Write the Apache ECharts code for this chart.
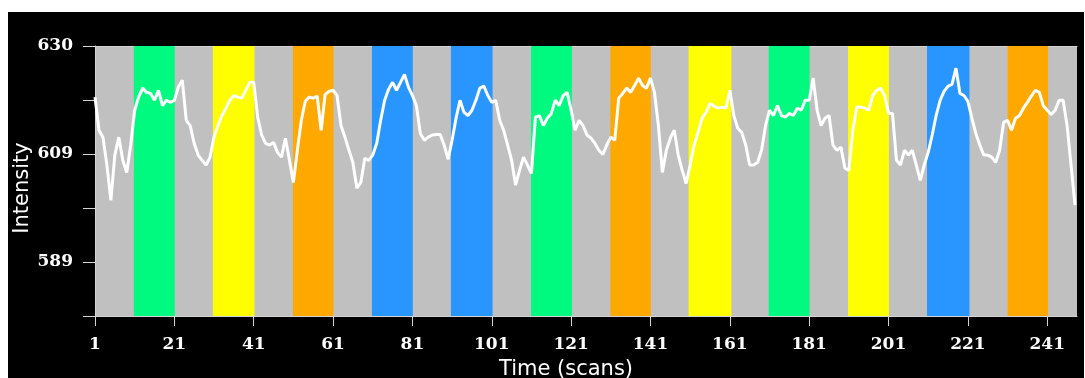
<!DOCTYPE html>
<html><head><meta charset="utf-8">
<script src="https://cdn.jsdelivr.net/npm/echarts@6/dist/echarts.min.js"></script>
<style>html,body{margin:0;padding:0;background:#fff;width:1085px;height:378px;overflow:hidden}
#c{position:absolute;left:8px;top:12px;width:1076px;height:366px;}</style></head>
<body><div id="c"></div>
<script>
const intensity = [
620.3,614.0,612.7,607.4,600.7,609.3,612.7,608.3,606.0,611.2,
617.8,620.3,622.0,621.2,621.0,619.7,621.6,618.7,619.7,619.3,
619.7,622.2,623.5,615.9,614.9,611.5,609.3,608.3,607.4,608.9,
612.7,614.9,616.8,618.2,619.7,620.6,620.3,620.1,621.6,623.1,
623.1,616.5,613.1,611.5,611.2,611.7,609.8,608.9,612.5,608.3,
604.1,610.2,615.9,619.5,620.3,620.1,620.5,614.0,620.8,621.4,
621.6,620.6,614.9,612.7,610.2,607.9,603.0,604.1,608.7,608.3,
609.3,611.5,615.9,619.7,621.8,623.1,621.6,623.1,624.6,622.2,
620.6,618.7,613.4,612.1,612.7,613.1,613.2,613.2,611.2,608.5,
612.1,616.3,619.7,617.4,616.8,617.8,619.7,622.0,622.4,620.6,
619.3,619.7,615.9,614.0,611.2,608.3,603.6,606.4,608.9,607.4,
605.8,616.5,616.8,614.9,616.3,617.2,619.7,618.7,620.6,621.2,
617.8,614.0,615.9,614.9,613.1,612.5,611.5,610.2,609.4,611.2,
612.7,612.1,620.1,621.0,622.0,621.2,622.5,623.9,622.5,622.0,
623.9,621.2,614.9,606.0,610.2,612.5,614.0,609.3,606.4,603.9,
607.4,611.2,613.6,616.3,617.4,619.1,618.6,618.2,618.4,618.2,
621.6,616.8,614.4,613.6,611.2,607.4,607.4,607.9,610.2,614.9,
617.8,616.8,618.7,616.8,616.5,617.2,616.8,618.2,617.8,619.7,
619.7,623.9,617.8,614.9,616.3,616.8,611.2,610.2,610.8,606.8,
606.4,614.0,618.4,618.4,618.2,617.8,620.6,621.6,622.0,620.6,
617.2,617.2,608.3,607.4,610.2,609.3,610.2,607.4,604.5,607.4,
609.8,613.1,616.8,619.7,621.4,622.4,622.7,625.8,621.0,620.6,
619.5,616.3,613.4,611.2,609.3,609.3,608.9,607.9,610.2,615.5,
615.9,614.0,616.3,616.8,618.2,619.3,620.5,621.6,621.2,618.7,
617.8,617.0,617.8,619.7,619.7,614.9,607.4,599.8
];
const blockStarts = [10.8, 30.7, 50.9, 70.8, 90.7, 110.9, 130.9, 150.6, 170.8, 190.8, 210.7, 231.0];
const blockEnds   = [21.1, 41.2, 61.1, 81.1, 101.2, 121.2, 141.1, 161.4, 181.1, 201.1, 221.4, 241.2];
const blockConditions = ['green','yellow','orange','blue','blue','green','orange','yellow','green','yellow','blue','orange'];
const conditionColors = {green:'#00fa80', yellow:'#ffff00', orange:'#ffa800', blue:'#2996ff'};
const xTicks = [1,21,41,61,81,101,121,141,161,181,201,221,241];
const yTicks = [578.75, 589, 599.25, 609.5, 619.75, 630];
const yLabelValues = [589, 609.5, 630];
const yLabelTexts = ['589','609','630'];

const chart = echarts.init(document.getElementById('c'));
const labelFont = {color:'#fff', fontFamily:'DejaVu Serif', fontWeight:'bold', fontSize:17};
const axisCol = '#d4d4d4';
chart.setOption({
  animation:false,
  backgroundColor:'#000',
  grid:{left:87, right:7, top:34, bottom:62, show:true, backgroundColor:'#c0c0c0', borderWidth:0},
  xAxis:[{
    type:'value', min:1, max:248.5,
    axisLine:{show:true, lineStyle:{color:axisCol, width:1}},
    axisTick:{show:true, customValues:xTicks, length:10, lineStyle:{color:axisCol}},
    axisLabel:Object.assign({customValues:xTicks, margin:20}, labelFont),
    splitLine:{show:false}
  },{
    type:'value', position:'top', min:1, max:248.5,
    axisLine:{show:true, onZero:false, lineStyle:{color:axisCol, width:1}},
    axisTick:{show:false}, axisLabel:{show:false}, splitLine:{show:false}
  }],
  yAxis:{
    type:'value', min:578.75, max:630,
    axisLine:{show:true, lineStyle:{color:axisCol, width:1}},
    axisTick:{show:true, customValues:yTicks, length:12, lineStyle:{color:axisCol}},
    axisLabel:Object.assign({customValues:yLabelValues, margin:22,
      formatter:v=>{const i=yLabelValues.indexOf(v); return i>=0?yLabelTexts[i]:'';}}, labelFont),
    splitLine:{show:false}
  },
  graphic:[
    {type:'text', x:15, y:176, rotation:Math.PI/2,
     style:{text:'Intensity', fill:'#fff', font:'21px "DejaVu Sans"', textAlign:'center', textVerticalAlign:'middle'}},
    {type:'text', x:558, y:347,
     style:{text:'Time (scans)', fill:'#fff', font:'21px "DejaVu Sans"', textAlign:'center', textVerticalAlign:'top'}}
  ],
  series:[{
    type:'line', data:[], z:1, silent:true,
    markArea:{silent:true, data: blockStarts.map((s,i)=>[
      {xAxis:s, yAxis:578.75, itemStyle:{color:conditionColors[blockConditions[i]], opacity:1}},
      {xAxis:blockEnds[i], yAxis:630}
    ])}
  },{
    type:'line', z:5, showSymbol:false, symbol:'none',
    data:intensity.map((v,i)=>[i+1, v]),
    lineStyle:{color:'#fff', width:3}
  }]
});
</script></body></html>
